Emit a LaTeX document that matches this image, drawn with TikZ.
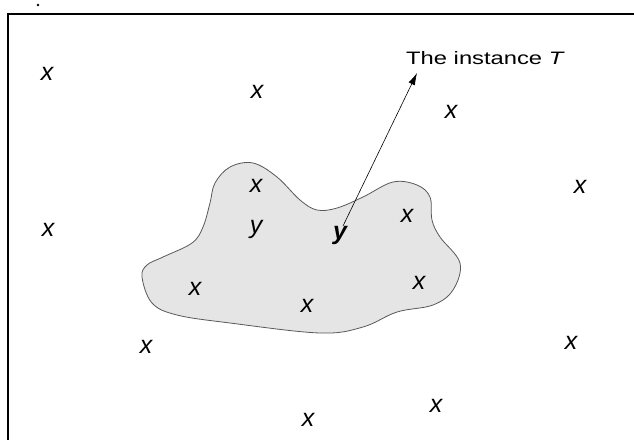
\documentclass[tikz,border=0pt]{standalone}
\usepackage{fontspec}
\setmainfont{Liberation Sans}
\usetikzlibrary{arrows.meta}
\begin{document}
\begin{tikzpicture}[x=1pt,y=-1pt,
  lab/.style={font=\fontsize{25}{27}\selectfont\itshape, inner sep=0pt},
  blob/.style={draw=black!65, fill=black!10, line width=0.8pt},
  frame/.style={line width=1.4pt},
  ptr/.style={line width=0.6pt, -{Latex[length=12pt,width=7pt]}}]
\useasboundingbox (0,0) rectangle (634,440);
\fill (38,5) circle (1.3pt);
\draw[frame] (634,14) -- (8,14) -- (8,440);
\draw[blob] plot[smooth cycle, tension=0.6] coordinates {
 (142,277) (152,303) (177,315) (230,323) (320,333) (363,327) (397,312)
 (433,305) (453,290) (460,263) (440,237) (432,220) (430,197) (417,185)
 (393,182) (363,197) (337,208) (317,210) (300,200) (277,177) (253,163)
 (230,167) (215,183) (210,203) (203,227) (192,243) (163,257) (147,265)};
\node[lab] (x1) at (47,74) {x};
\node[lab] (x2) at (257,92) {x};
\node[lab] (x3) at (451,112) {x};
\node[lab] (x4) at (580,187) {x};
\node[lab] (x5) at (48,230) {x};
\node[lab] (x6) at (256,186) {x};
\node[lab] (y1) at (256,229) {y};
\node[lab, font=\fontsize{25}{27}\selectfont\itshape\bfseries] (y2) at (340,235) {y};
\node[lab] (x7) at (407,216) {x};
\node[lab] (x8) at (195,289) {x};
\node[lab] (x9) at (307,306) {x};
\node[lab] (x10) at (419,283) {x};
\node[lab] (x11) at (146,347) {x};
\node[lab] (x12) at (571,343) {x};
\node[lab] (x13) at (308,420) {x};
\node[lab] (x14) at (436,406) {x};
\node[font=\fontsize{18}{20}\selectfont, inner sep=0pt, anchor=base west] (T) at (406,64) {\scalebox{1.32}[1]{The instance \textit{T}}};
\coordinate (tip) at (417,73);
\coordinate (start) at (343,226);
\draw[ptr] (start) -- (tip);
\end{tikzpicture}
\end{document}
